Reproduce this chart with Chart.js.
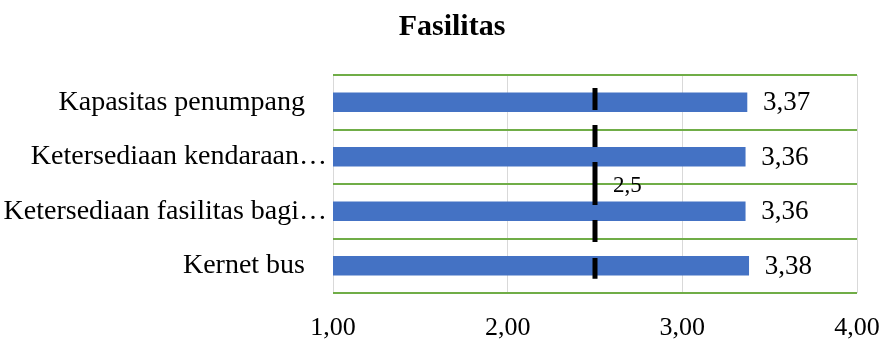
<!DOCTYPE html>
<html>
<head>
<meta charset="utf-8">
<script src="https://cdn.jsdelivr.net/npm/chart.js@4.4.1/dist/chart.umd.min.js"></script>
<style>
    html, body { margin: 0; padding: 0; background: #fff; }
    #wrap { width: 883px; height: 341px; }
</style>
</head>
<body>
<div id="wrap"><canvas id="chart" width="883" height="341"></canvas></div>
<script>
const chartTitle = 'Fasilitas';
const categories = [
    'Kapasitas penumpang',
    'Ketersediaan kendaraan\u2026',
    'Ketersediaan fasilitas bagi\u2026',
    'Kernet bus'
];
const scores = [3.37, 3.36, 3.36, 3.38];
const xTicks = [1, 2, 3, 4];
// garis batas rata-rata 2,5
const thresholdValue = 2.5;
const thresholdLabel = '2,5';
const thresholdSpan = [3.76, 0.26];

const serif = "'Liberation Serif', 'DejaVu Serif', serif";
const fmt = (v) => v.toFixed(2).replace('.', ',');

// judul, label kategori dan label nilai
const labelsPlugin = {
    id: 'labelsPlugin',
    afterDatasetsDraw(chart) {
        const ctx = chart.ctx;
        const area = chart.chartArea;
        const xScale = chart.scales.x;
        const yScale = chart.scales.y;
        ctx.save();
        ctx.fillStyle = '#000';

        ctx.font = 'bold 30px ' + serif;
        ctx.textAlign = 'center';
        ctx.textBaseline = 'alphabetic';
        ctx.fillText(chartTitle, 452, 35);

        ctx.textBaseline = 'middle';
        ctx.textAlign = 'right';
        ctx.font = '28px ' + serif;
        categories.forEach((label, i) => {
            // label terpotong (…) lebih dekat ke sumbu, seperti di Excel
            const gap = label.endsWith('\u2026') ? 6 : 28;
            ctx.fillText(label, area.left - gap, yScale.getPixelForTick(i));
        });

        ctx.font = '27px ' + serif;
        ctx.textAlign = 'left';
        chart.getDatasetMeta(1).data.forEach((bar, i) => {
            ctx.fillText(fmt(scores[i]), bar.x + 16, bar.y + 1);
        });

        ctx.font = '23px ' + serif;
        ctx.fillText(thresholdLabel, xScale.getPixelForValue(thresholdValue) + 18, (area.top + area.bottom) / 2 + 2);
        ctx.restore();
    }
};

const ctx = document.getElementById('chart').getContext('2d');
new Chart(ctx, {
    data: {
        labels: categories,
        datasets: [{
            type: 'line',
            data: thresholdSpan.map(y => ({ x: thresholdValue, y: y })),
            xAxisID: 'x',
            yAxisID: 'y2',
            borderColor: '#000',
            borderWidth: 5,
            borderDash: [22, 15, 22, 15, 43, 15, 22, 16, 21, 200],
            borderCapStyle: 'butt',
            pointRadius: 0,
            fill: false,
            order: 0
        }, {
            type: 'bar',
            data: scores,
            xAxisID: 'x',
            yAxisID: 'y',
            backgroundColor: '#4472C4',
            grouped: false,
            maxBarThickness: 19,
            categoryPercentage: 1,
            barPercentage: 1,
            order: 1
        }]
    },
    options: {
        indexAxis: 'y',
        responsive: false,
        animation: false,
        layout: { padding: { top: 75, right: 0, left: 0, bottom: 0 } },
        plugins: {
            legend: { display: false },
            title: { display: false },
            tooltip: { enabled: false }
        },
        scales: {
            x: {
                type: 'linear',
                axis: 'x',
                position: 'bottom',
                min: xTicks[0],
                max: xTicks[xTicks.length - 1],
                afterBuildTicks: (scale) => { scale.ticks = xTicks.map(v => ({ value: v })); },
                afterFit: (scale) => {
                    scale.height = 48;
                    scale.paddingLeft = 0;
                    scale.paddingRight = 26;
                },
                grid: { color: '#D9D9D9', lineWidth: 1, drawTicks: false },
                border: { display: false },
                ticks: {
                    padding: 20,
                    color: '#000',
                    font: { family: serif, size: 26 },
                    callback: (v) => fmt(v)
                }
            },
            y: {
                type: 'category',
                axis: 'y',
                position: 'left',
                offset: true,
                afterFit: (scale) => { scale.width = 333; },
                grid: { color: '#70AD47', lineWidth: 2, drawTicks: false, offset: true },
                border: { display: false },
                ticks: { display: false }
            },
            y2: {
                type: 'linear',
                axis: 'y',
                display: false,
                min: 0,
                max: categories.length
            }
        }
    },
    plugins: [labelsPlugin]
});
</script>
</body>
</html>
